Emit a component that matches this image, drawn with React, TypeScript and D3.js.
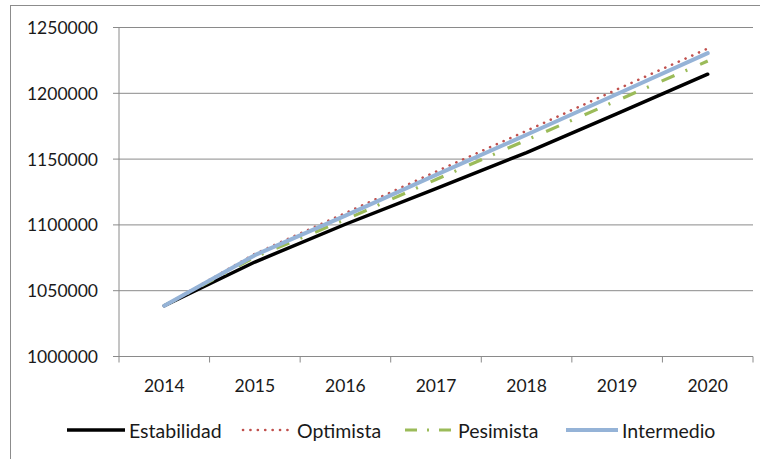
import React from "react";
import * as d3 from "d3";

const years = ["2014", "2015", "2016", "2017", "2018", "2019", "2020"];
const estabilidad = [1038600, 1071800, 1100500, 1127500, 1155000, 1184500, 1214500];
const optimista = [1038600, 1078000, 1109000, 1140500, 1171500, 1203000, 1234000];
const pesimista = [1038600, 1075500, 1104000, 1134500, 1164500, 1194500, 1224500];
const intermedio = [1038600, 1077000, 1107000, 1138000, 1168500, 1199500, 1230500];
const yTicks = [1000000, 1050000, 1100000, 1150000, 1200000, 1250000];
const seriesNames = ["Estabilidad", "Optimista", "Pesimista", "Intermedio"];

const W = 760;
const H = 459;
const left = 119;
const right = 753;
const top = 27.5;
const bottom = 356.5;
const FONT = "Lato, 'Open Sans', sans-serif";

const styles = [
  { color: "#000000", width: 3.5, dash: undefined as string | undefined, cap: "round" },
  { color: "#C0504D", width: 2.6, dash: "0.1 7.3", cap: "round" },
  { color: "#9BBB59", width: 3.2, dash: "14 12 2 14", cap: "butt" },
  { color: "#95B3D7", width: 4, dash: undefined as string | undefined, cap: "round" },
];

export default function App() {
  const x = d3.scaleBand<string>().domain(years).range([left, right]).padding(0);
  const y = d3.scaleLinear().domain([1000000, 1250000]).range([bottom, top]);
  const seriesData = [estabilidad, optimista, pesimista, intermedio];
  const line = d3
    .line<number>()
    .x((_, i) => (x(years[i]) as number) + x.bandwidth() / 2)
    .y((v) => y(v));

  const legendLineX = [67, 243, 405, 566];
  const legendTextX = [129, 297, 458, 622];
  const legendY = 430;
  const tickEdges = years.map((yr) => x(yr) as number).concat([right]);

  return (
    <svg width={W} height={H} style={{ display: "block", position: "absolute", left: 0, top: 0 }}>
      <rect x={0} y={0} width={W} height={H} fill="#fff" />
      <rect x={10.5} y={5.5} width={W + 20} height={H + 20} fill="none" stroke="#8c8c8c" strokeWidth={1} />
      {yTicks.map((t) => (
        <line key={"g" + t} x1={left - 6} x2={right} y1={y(t)} y2={y(t)} stroke="#8a8a8a" strokeWidth={1} />
      ))}
      <line x1={left} x2={left} y1={top} y2={bottom} stroke="#8a8a8a" strokeWidth={1} />
      {tickEdges.map((tx, i) => (
        <line key={"t" + i} x1={tx} x2={tx} y1={bottom} y2={bottom + 6} stroke="#8a8a8a" strokeWidth={1} />
      ))}
      {yTicks.map((t) => (
        <text
          key={"yl" + t}
          x={98}
          y={y(t)}
          textAnchor="end"
          dominantBaseline="central"
          fontFamily={FONT}
          fontSize={17.5}
          fill="#1a1a1a"
        >
          {t}
        </text>
      ))}
      {years.map((yr) => (
        <text
          key={"xl" + yr}
          x={(x(yr) as number) + x.bandwidth() / 2}
          y={385}
          textAnchor="middle"
          dominantBaseline="central"
          fontFamily={FONT}
          fontSize={17.5}
          fill="#1a1a1a"
        >
          {yr}
        </text>
      ))}
      {seriesData.map((d, i) => (
        <path
          key={"s" + i}
          d={line(d) || ""}
          fill="none"
          stroke={styles[i].color}
          strokeWidth={styles[i].width}
          strokeDasharray={styles[i].dash}
          strokeLinecap={styles[i].cap as any}
          strokeLinejoin="round"
        />
      ))}
      {seriesNames.map((name, i) => (
        <g key={"lg" + name}>
          <line
            x1={legendLineX[i]}
            x2={legendTextX[i] - 4}
            y1={legendY}
            y2={legendY}
            stroke={styles[i].color}
            strokeWidth={styles[i].width}
            strokeDasharray={i === 2 ? "12 10 2 10" : styles[i].dash}
            strokeLinecap={i === 1 ? "round" : "butt"}
          />
          <text
            x={legendTextX[i]}
            y={legendY}
            dominantBaseline="central"
            fontFamily={FONT}
            fontSize={19.5}
            fill="#1a1a1a"
          >
            {name}
          </text>
        </g>
      ))}
    </svg>
  );
}
